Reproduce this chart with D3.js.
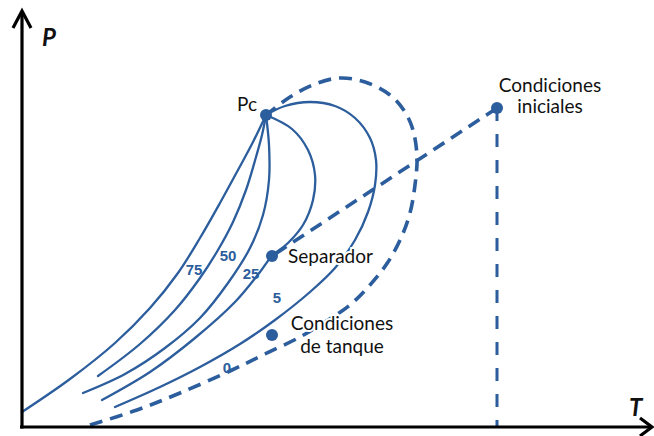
<!DOCTYPE html>
<html>
<head>
<meta charset="utf-8">
<script src="https://cdn.jsdelivr.net/npm/d3@7"></script>
<style>
  html, body { margin: 0; padding: 0; background: #fff; }
  svg { display: block; }
</style>
</head>
<body>
<svg id="chart" width="654" height="436"></svg>
<script>
// ---------- data (arbitrary T / P units) ----------
const pcPoint = [244, 312];
const curve75 = [[0,15],[48,48],[93,84],[128,119],[156,154],[178,189],[198,224],[216,257],[231,285],[244,312]];
const curve50 = [[76,51],[118,83],[153,117],[178,149],[196,177],[211,205],[224,237],[234,270],[240,292],[244,312]];
const curve25 = [[61,34],[103,53],[143,79],[178,109],[206,144],[228,179],[241,212],[247,247],[247,282],[244,312]];
const curve10 = [[80,27],[128,55],[173,89],[213,125],[238,155],[250,171],[266,184],[281,202],[291,227],[293,252],[286,277],[270,298],[244,312]];
const curve5  = [[93,20],[138,40],[178,60],[218,83],[253,107],[288,135],[313,159],[333,187],[346,215],[353,242],[354,267],[348,289],[333,309],[313,321],[288,325],[263,321],[244,312]];
const curve0  = [[68,2],[115,17],[158,34],[208,56],[243,73],[278,90],[303,105],[328,122],[348,142],[366,165],[379,189],[388,214],[393,242],[395,270],[391,297],[383,315],[368,332],[343,345],[318,349],[293,343],[268,330],[244,312]];
const separatorPoint = [250, 171];
const tankPoint = [250, 92];
const initialPoint = [475, 319];
const processPath = [initialPoint, separatorPoint];
const isothermPath = [initialPoint, [475, 0]];
const curveLabels = ["75", "50", "25", "5", "0"];
const curveLabelPos = [[172,158],[206,172],[229,154],[255,130],[205,60]];

// ---------- scales ----------
const blue = "#2c5d9c";
const svg = d3.select("#chart");
const x = d3.scaleLinear().domain([0, 630]).range([22, 652]);
const y = d3.scaleLinear().domain([0, 415]).range([427, 12]);

const line = d3.line().x(d => x(d[0])).y(d => y(d[1])).curve(d3.curveCatmullRom.alpha(0.5));
const straight = d3.line().x(d => x(d[0])).y(d => y(d[1]));

// ---------- curves ----------
[curve75, curve50, curve25, curve10, curve5].forEach(c => {
  svg.append("path").attr("d", line(c))
    .attr("fill", "none").attr("stroke", blue).attr("stroke-width", 2.3)
    .attr("stroke-linecap", "round");
});
svg.append("path").attr("d", line(curve0))
  .attr("fill", "none").attr("stroke", blue).attr("stroke-width", 3.6)
  .attr("stroke-dasharray", "13,8");
svg.append("path").attr("d", straight(processPath))
  .attr("fill", "none").attr("stroke", blue).attr("stroke-width", 3.6)
  .attr("stroke-dasharray", "13,8");
svg.append("path").attr("d", straight(isothermPath))
  .attr("fill", "none").attr("stroke", blue).attr("stroke-width", 3)
  .attr("stroke-dasharray", "13,13");

// ---------- curve labels ----------
svg.selectAll("text.cl").data(curveLabels).enter().append("text")
  .attr("class", "cl")
  .attr("x", (d, i) => x(curveLabelPos[i][0]))
  .attr("y", (d, i) => y(curveLabelPos[i][1]))
  .attr("text-anchor", "middle").attr("dominant-baseline", "central")
  .attr("font-family", "Liberation Sans, Arial, sans-serif")
  .attr("font-size", 15).attr("font-weight", "bold")
  .attr("fill", blue)
  .text(d => d);

// ---------- points ----------
[pcPoint, separatorPoint, tankPoint, initialPoint].forEach(p => {
  svg.append("circle").attr("cx", x(p[0])).attr("cy", y(p[1])).attr("r", 6).attr("fill", blue);
});

// ---------- annotation text ----------
const font = "Lato, 'Open Sans', sans-serif";
function label(txt, px, py, anchor) {
  svg.append("text").attr("x", px).attr("y", py)
    .attr("text-anchor", anchor)
    .attr("font-family", font).attr("font-size", 19)
    .attr("fill", "#111")
    .attr("stroke", "#fff").attr("stroke-width", 4).attr("paint-order", "stroke")
    .text(txt);
}
label("Pc", x(pcPoint[0]) - 9, y(pcPoint[1]) - 4, "end");
label("Separador", x(separatorPoint[0]) + 16, y(separatorPoint[1]) + 7, "start");
label("Condiciones", x(tankPoint[0]) + 70, y(tankPoint[1]) - 5, "middle");
label("de tanque", x(tankPoint[0]) + 70, y(tankPoint[1]) + 18, "middle");
label("Condiciones", x(initialPoint[0]) + 53, y(initialPoint[1]) - 16, "middle");
label("iniciales", x(initialPoint[0]) + 53, y(initialPoint[1]) + 5, "middle");

// ---------- axes ----------
const xAxis = d3.axisBottom(x).tickValues([]).tickSizeOuter(0);
const yAxis = d3.axisLeft(y).tickValues([]).tickSizeOuter(0);
const gx = svg.append("g").attr("transform", `translate(0,${y(0)})`).call(xAxis);
const gy = svg.append("g").attr("transform", `translate(${x(0)},0)`).call(yAxis);
[gx, gy].forEach(g => g.select(".domain").attr("stroke", "#000").attr("stroke-width", 3.2));
gx.select(".domain").attr("d", `M${x(0) - 2},0H${x(630)}`);
gy.select(".domain").attr("d", `M0,${y(0) + 1.6}V${y(415)}`);

// arrow heads
svg.append("path")
  .attr("d", `M${x(0) - 9},${y(415) + 16}L${x(0)},${y(415) - 1}L${x(0) + 9},${y(415) + 16}`)
  .attr("fill", "none").attr("stroke", "#000").attr("stroke-width", 3.2).attr("stroke-linejoin", "miter");
svg.append("path")
  .attr("d", `M${x(630) - 12},${y(0) - 9}L${x(630)},${y(0)}L${x(630) - 12},${y(0) + 9}`)
  .attr("fill", "none").attr("stroke", "#000").attr("stroke-width", 3.2);

svg.append("text").attr("x", 42).attr("y", 46)
  .attr("font-family", font).attr("font-size", 24).attr("font-weight", "bold").attr("font-style", "italic")
  .attr("fill", "#111").text("P");
svg.append("text").attr("x", 629).attr("y", 416)
  .attr("font-family", font).attr("font-size", 24).attr("font-weight", "bold").attr("font-style", "italic")
  .attr("fill", "#111").text("T");
</script>
</body>
</html>
